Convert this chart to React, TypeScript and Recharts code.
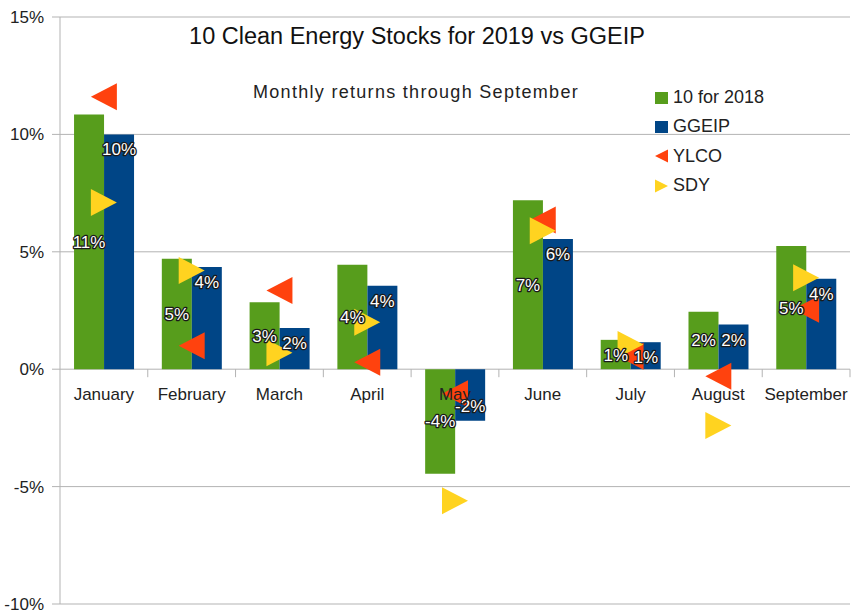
import React from "react";
import {
  Bar,
  CartesianGrid,
  ComposedChart,
  LabelList,
  Legend,
  Line,
  XAxis,
  YAxis,
} from "recharts";

const MONTHS = ["January", "February", "March", "April", "May", "June", "July", "August", "September"];
const TEN_FOR_2018 = [10.85, 4.7, 2.85, 4.45, -4.45, 7.2, 1.25, 2.45, 5.25];
const GGEIP = [10.0, 4.35, 1.75, 3.55, -2.2, 5.55, 1.15, 1.9, 3.85];
const YLCO = [11.6, 1.0, 3.35, 0.3, -1.05, 6.35, 0.55, -0.3, 2.55];
const SDY = [7.1, 4.2, 0.7, 2.0, -5.6, 5.9, 1.05, -2.4, 3.9];
const Y_TICKS = [-10, -5, 0, 5, 10, 15];

const GREEN = "#579d1c";
const BLUE = "#004586";
const RED = "#ff420e";
const YELLOW = "#ffd320";
const GRID = "#b3b3b3";
const FONT = '"Liberation Sans", Arial, sans-serif';

const W = 854;
const H = 615;
const MARGIN = { top: 17, right: 4, bottom: 11, left: 0 };
const Y_AXIS_W = 60;
const CAT_W = (W - MARGIN.left - MARGIN.right - Y_AXIS_W) / MONTHS.length;

const data = MONTHS.map((month, i) => ({
  month,
  ten: TEN_FOR_2018[i],
  ggeip: GGEIP[i],
  ylco: YLCO[i],
  sdy: SDY[i],
}));

const pct = (v: number) => `${Math.round(v)}%`;

// white value labels with a dark outline, like the LibreOffice export
const labelStyle = {
  fontFamily: FONT,
  fontSize: 17,
  fill: "#fff",
  stroke: "#1a1a1a",
  strokeWidth: 2.6,
  strokeLinejoin: "round" as const,
  paintOrder: "stroke",
};

function LeftTri({ cx, cy, size = 13 }: any) {
  if (cx == null || cy == null) return null;
  return (
    <polygon
      points={`${cx - size},${cy} ${cx + size},${cy - size - 0.5} ${cx + size},${cy + size + 0.5}`}
      fill={RED}
    />
  );
}

function RightTri({ cx, cy, size = 13 }: any) {
  if (cx == null || cy == null) return null;
  return (
    <polygon
      points={`${cx + size},${cy} ${cx - size},${cy - size - 0.5} ${cx - size},${cy + size + 0.5}`}
      fill={YELLOW}
    />
  );
}

// month names sit under the zero line, with a tick between categories
function CategoryLabel({ x, y, value }: any) {
  return (
    <g>
      <line x1={x + CAT_W / 2} y1={y} x2={x + CAT_W / 2} y2={y + 8} stroke={GRID} />
      <text
        x={x}
        y={y + 25}
        textAnchor="middle"
        dominantBaseline="central"
        fontFamily={FONT}
        fontSize={17}
        fill="#222"
      >
        {value}
      </text>
    </g>
  );
}

const LEGEND_ITEMS = [
  { name: "10 for 2018", kind: "square", color: GREEN },
  { name: "GGEIP", kind: "square", color: BLUE },
  { name: "YLCO", kind: "left", color: RED },
  { name: "SDY", kind: "right", color: YELLOW },
];

function LegendBox() {
  return (
    <div style={{ fontFamily: FONT, fontSize: 18, color: "#222" }}>
      {LEGEND_ITEMS.map((it) => (
        <div key={it.name} style={{ display: "flex", alignItems: "center", height: 29.3 }}>
          <svg width={14} height={14} style={{ marginRight: 4 }}>
            {it.kind === "square" && <rect x={0} y={1} width={13} height={12} fill={it.color} />}
            {it.kind === "left" && <polygon points="0,7 13,0.5 13,13.5" fill={it.color} />}
            {it.kind === "right" && <polygon points="13,7 0,0.5 0,13.5" fill={it.color} />}
          </svg>
          <span>{it.name}</span>
        </div>
      ))}
    </div>
  );
}

export default function App() {
  return (
    <div style={{ position: "absolute", left: 0, top: 0, width: W, height: H, background: "#fff" }}>
      <div
        style={{
          position: "absolute",
          left: 0,
          width: 834,
          top: 23,
          textAlign: "center",
          fontFamily: FONT,
          fontSize: 23.5,
          color: "#111",
          zIndex: 2,
          pointerEvents: "none",
        }}
      >
        10 Clean Energy Stocks for 2019 vs GGEIP
      </div>
      <div
        style={{
          position: "absolute",
          left: 0,
          width: 832,
          top: 82,
          textAlign: "center",
          fontFamily: FONT,
          fontSize: 18,
          letterSpacing: 1.3,
          color: "#222",
          zIndex: 2,
          pointerEvents: "none",
        }}
      >
        Monthly returns through September
      </div>
      <ComposedChart
        width={W}
        height={H}
        data={data}
        margin={MARGIN}
        barCategoryGap="16%"
        barGap={0}
      >
        <CartesianGrid vertical={false} stroke={GRID} />
        <XAxis dataKey="month" hide />
        <YAxis
          domain={[-10, 15]}
          ticks={Y_TICKS}
          width={Y_AXIS_W}
          tickFormatter={(v: number) => `${v}%`}
          tick={{ fontFamily: FONT, fontSize: 17, fill: "#222" }}
          tickSize={8}
          tickMargin={8}
          stroke={GRID}
          interval={0}
        />
        <YAxis
          yAxisId="right"
          orientation="right"
          domain={[-10, 15]}
          width={0}
          tick={false}
          tickLine={false}
          stroke={GRID}
        />
        <Bar dataKey="ten" name="10 for 2018" fill={GREEN} isAnimationActive={false}>
          <LabelList dataKey="ten" position="center" formatter={pct as any} style={labelStyle} />
        </Bar>
        <Bar dataKey="ggeip" name="GGEIP" fill={BLUE} isAnimationActive={false}>
          <LabelList
            dataKey="ggeip"
            position="insideTop"
            offset={9}
            formatter={pct as any}
            style={labelStyle}
          />
        </Bar>
        <Line
          dataKey={() => 0}
          stroke="none"
          dot={false}
          activeDot={false}
          legendType="none"
          isAnimationActive={false}
        >
          <LabelList dataKey="month" content={CategoryLabel} />
        </Line>
        <Line
          dataKey="ylco"
          name="YLCO"
          stroke="none"
          dot={<LeftTri />}
          activeDot={false}
          isAnimationActive={false}
        />
        <Line
          dataKey="sdy"
          name="SDY"
          stroke="none"
          dot={<RightTri />}
          activeDot={false}
          isAnimationActive={false}
        />
        <Legend
          layout="vertical"
          align="center"
          verticalAlign="middle"
          content={() => <LegendBox />}
          wrapperStyle={{ left: 655, top: 83, width: 150 }}
        />
      </ComposedChart>
    </div>
  );
}
